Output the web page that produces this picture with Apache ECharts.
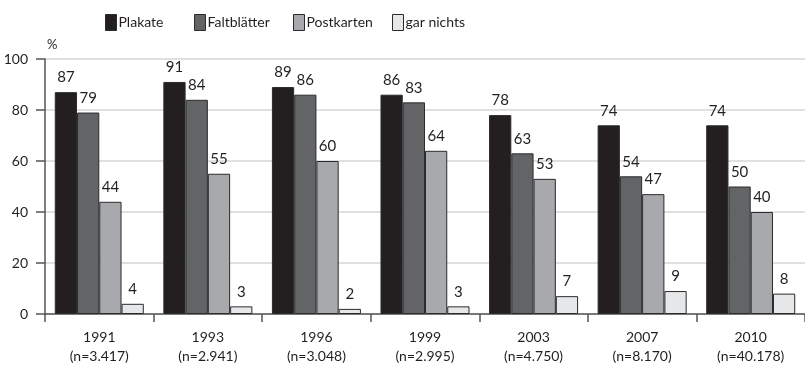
<!DOCTYPE html>
<html>
<head>
<meta charset="utf-8">
<script src="https://cdn.jsdelivr.net/npm/echarts@6/dist/echarts.min.js"></script>
<style>
html,body{margin:0;padding:0;background:#fff;}
#chart{width:805px;height:366px;}
</style>
</head>
<body>
<div id="chart"></div>
<script>
var categories = ['1991\n(n=3.417)', '1993\n(n=2.941)', '1996\n(n=3.048)', '1999\n(n=2.995)', '2003\n(n=4.750)', '2007\n(n=8.170)', '2010\n(n=40.178)'];
var seriesNames = ['Plakate', 'Faltblätter', 'Postkarten', 'gar nichts'];
var plakate = [87, 91, 89, 86, 78, 74, 74];
var faltblaetter = [79, 84, 86, 83, 63, 54, 50];
var postkarten = [44, 55, 60, 64, 53, 47, 40];
var garNichts = [4, 3, 2, 3, 7, 9, 8];
var yTicks = [0, 20, 40, 60, 80, 100];

var colors = ['#231f20', '#636466', '#a7a9ac', '#e6e7e8'];
var legendLeft = [100, 189, 288, 387];
var values = [plakate, faltblaetter, postkarten, garNichts];
var font = 'Lato, "Open Sans", sans-serif';
var chart = echarts.init(document.getElementById('chart'));

var series = values.map(function (arr, i) {
  return {
    name: seriesNames[i],
    type: 'bar',
    data: arr,
    barGap: '0%',
    barCategoryGap: '18%',
    itemStyle: { color: colors[i], borderColor: '#2b2b2b', borderWidth: 1 },
    label: {
      show: true,
      position: 'top',
      distance: 7,
      color: '#231f20',
      fontFamily: font,
      fontSize: 15
    },
    emphasis: { disabled: true }
  };
});

var legends = seriesNames.map(function (n, i) {
  return {
    top: 9,
    left: legendLeft[i],
    itemWidth: 11,
    itemHeight: 16,
    icon: 'rect',
    selectedMode: false,
    itemStyle: { borderColor: '#2b2b2b', borderWidth: 1 },
    textStyle: { color: '#231f20', fontFamily: font, fontSize: 14, padding: [0, 0, 0, -3] },
    data: [n]
  };
});

chart.setOption({
  animation: false,
  color: colors,
  legend: legends,
  grid: { left: 45, right: 0, top: 59, bottom: 47, containLabel: false },
  xAxis: {
    type: 'category',
    data: categories,
    axisLine: { show: true, lineStyle: { color: '#555', width: 1.5 } },
    axisTick: { show: true, length: 8, alignWithLabel: false, lineStyle: { color: '#555', width: 1.5 } },
    axisLabel: { color: '#231f20', fontFamily: font, fontSize: 14, lineHeight: 19, margin: 14, interval: 0 }
  },
  yAxis: {
    type: 'value',
    min: yTicks[0],
    max: yTicks[yTicks.length - 1],
    interval: 20,
    name: '%',
    nameLocation: 'end',
    nameGap: 8,
    nameTextStyle: { color: '#231f20', fontFamily: font, fontSize: 13, align: 'left', padding: [0, 0, 0, 2] },
    axisLine: { show: true, lineStyle: { color: '#555', width: 1.5 } },
    axisTick: { show: true, length: 9, lineStyle: { color: '#555', width: 1.5 } },
    axisLabel: { color: '#231f20', fontFamily: font, fontSize: 14, margin: 17 },
    splitLine: { show: true, lineStyle: { color: '#d6d6d6', width: 1.5 } }
  },
  series: series
});
</script>
</body>
</html>
